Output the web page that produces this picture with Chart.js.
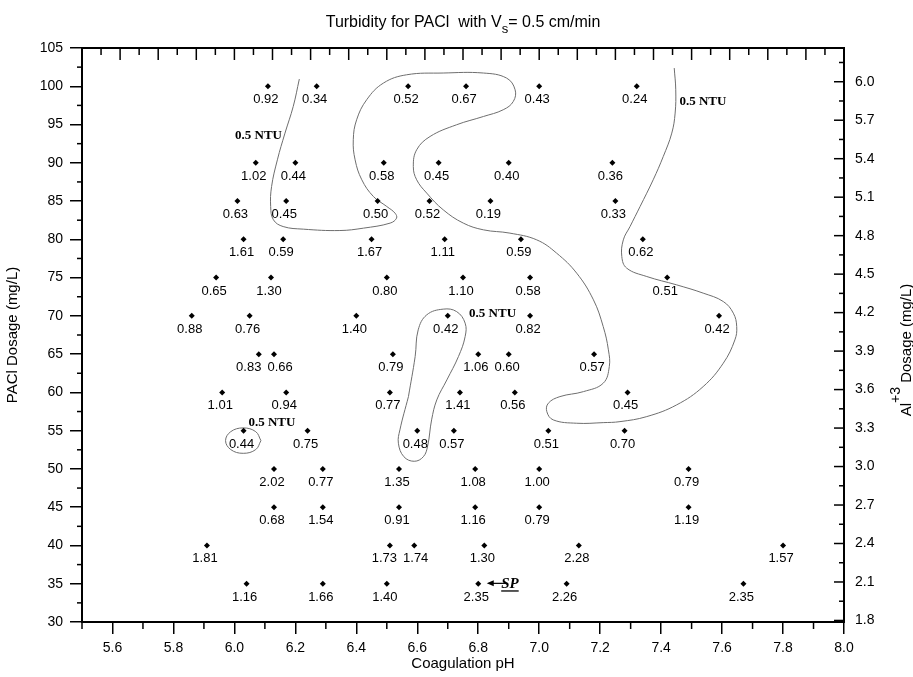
<!DOCTYPE html>
<html>
<head>
<meta charset="utf-8">
<title>Turbidity for PACl</title>
<script src="https://cdn.jsdelivr.net/npm/chart.js@4.4.1/dist/chart.umd.min.js"></script>
<style>
  html, body { margin: 0; padding: 0; background: #fff; }
</style>
</head>
<body>
<canvas id="chart" width="913" height="677"></canvas>
<script>
// --- Data ---
const PH = [
    6.11, 6.27, 6.57, 6.76, 7.00, 7.32,
    6.07, 6.20, 6.49, 6.67, 6.90, 7.24,
    6.01, 6.17, 6.47, 6.64, 6.84, 7.25,
    6.03, 6.16, 6.45, 6.69, 6.94, 7.34,
    5.94, 6.12, 6.50, 6.75, 6.97, 7.42,
    5.86, 6.05, 6.40, 6.70, 6.97, 7.59,
    6.08, 6.13, 6.52, 6.80, 6.90, 7.18,
    5.96, 6.17, 6.51, 6.74, 6.92, 7.29,
    6.03, 6.24, 6.60, 6.72, 7.03, 7.28,
    6.13, 6.29, 6.54, 6.79, 7.00, 7.49,
    6.13, 6.29, 6.54, 6.79, 7.00, 7.49,
    5.91, 6.51, 6.59, 6.82, 7.13, 7.80,
    6.04, 6.29, 6.50, 6.80, 7.09, 7.67
];
const DOSE = [
    100, 100, 100, 100, 100, 100,
    90, 90, 90, 90, 90, 90,
    85, 85, 85, 85, 85, 85,
    80, 80, 80, 80, 80, 80,
    75, 75, 75, 75, 75, 75,
    70, 70, 70, 70, 70, 70,
    65, 65, 65, 65, 65, 65,
    60, 60, 60, 60, 60, 60,
    55, 55, 55, 55, 55, 55,
    50, 50, 50, 50, 50, 50,
    45, 45, 45, 45, 45, 45,
    40, 40, 40, 40, 40, 40,
    35, 35, 35, 35, 35, 35
];
const TURBIDITY = [
    0.92, 0.34, 0.52, 0.67, 0.43, 0.24,
    1.02, 0.44, 0.58, 0.45, 0.40, 0.36,
    0.63, 0.45, 0.50, 0.52, 0.19, 0.33,
    1.61, 0.59, 1.67, 1.11, 0.59, 0.62,
    0.65, 1.30, 0.80, 1.10, 0.58, 0.51,
    0.88, 0.76, 1.40, 0.42, 0.82, 0.42,
    0.83, 0.66, 0.79, 1.06, 0.60, 0.57,
    1.01, 0.94, 0.77, 1.41, 0.56, 0.45,
    0.44, 0.75, 0.48, 0.57, 0.51, 0.70,
    2.02, 0.77, 1.35, 1.08, 1.00, 0.79,
    0.68, 1.54, 0.91, 1.16, 0.79, 1.19,
    1.81, 1.73, 1.74, 1.30, 2.28, 1.57,
    1.16, 1.66, 1.40, 2.35, 2.26, 2.35
];

// 0.5 NTU contour traces [pH, dosage]
const CONTOUR_MAIN = [
    [6.213, 100.94], [6.193, 97.36], [6.166, 93.88], [6.141, 90.39], [6.122, 86.90],
    [6.119, 84.29], [6.128, 82.55], [6.160, 81.67], [6.226, 81.33], [6.346, 81.15],
    [6.423, 81.46], [6.511, 82.12], [6.532, 82.77], [6.527, 83.42], [6.500, 84.29],
    [6.456, 85.60], [6.418, 87.78], [6.396, 90.39], [6.390, 93.01], [6.401, 95.62],
    [6.434, 98.24], [6.489, 100.42], [6.565, 101.50], [6.685, 101.73], [6.817, 101.73],
    [6.893, 101.07], [6.921, 99.54], [6.915, 98.01], [6.882, 96.93], [6.817, 96.05],
    [6.729, 94.97], [6.642, 93.44], [6.598, 91.70], [6.587, 89.52], [6.598, 87.78],
    [6.631, 86.04], [6.685, 83.86], [6.751, 82.12], [6.817, 81.24], [6.904, 80.81],
    [6.992, 79.93], [7.057, 78.20], [7.123, 75.58], [7.178, 72.09], [7.210, 68.60],
    [7.227, 65.56], [7.230, 63.37], [7.210, 61.20], [7.145, 60.10], [7.068, 59.45],
    [7.030, 58.59], [7.025, 57.49], [7.046, 56.41], [7.123, 55.97], [7.210, 56.05],
    [7.265, 56.18], [7.353, 56.84], [7.451, 58.37], [7.538, 60.76], [7.604, 63.82],
    [7.642, 66.86], [7.648, 68.60], [7.637, 70.35], [7.604, 71.87], [7.538, 72.97],
    [7.451, 74.05], [7.353, 75.14], [7.287, 76.24], [7.271, 77.75], [7.276, 79.93],
    [7.298, 81.67], [7.331, 84.29], [7.374, 87.78], [7.407, 90.82], [7.435, 93.88],
    [7.446, 96.50], [7.448, 99.54], [7.443, 102.38]
];
const CONTOUR_LOOP = [
    [6.571, 59.45], [6.593, 64.68], [6.603, 68.17], [6.631, 70.13], [6.685, 70.88],
    [6.729, 70.56], [6.757, 69.05], [6.757, 67.29], [6.735, 64.68], [6.697, 61.63],
    [6.664, 59.02], [6.647, 56.41], [6.634, 53.00], [6.620, 51.60], [6.590, 51.00],
    [6.556, 51.60], [6.538, 53.36], [6.543, 55.10], [6.571, 59.45]
];
const CONTOUR_RING = [
    [6.087, 53.70], [6.070, 52.53], [6.029, 52.04], [5.988, 52.53], [5.971, 53.70],
    [5.988, 54.87], [6.029, 55.36], [6.070, 54.87], [6.087, 53.70]
];

// annotation anchors [pH, dosage]
const NTU_LABELS = [[6.079, 93.1], [7.537, 97.6], [6.847, 69.87], [6.123, 55.62]];
const SP_LABEL = [6.904, 34.4];
const SP_ARROW = [[6.894, 35.05], [6.828, 35.05]];

// tick labels
const X_TICKS = [5.6, 5.8, 6.0, 6.2, 6.4, 6.6, 6.8, 7.0, 7.2, 7.4, 7.6, 7.8, 8.0];
const Y_TICKS = [30, 35, 40, 45, 50, 55, 60, 65, 70, 75, 80, 85, 90, 95, 100, 105];
const Y2_TICKS = [1.8, 2.1, 2.4, 2.7, 3.0, 3.3, 3.6, 3.9, 4.2, 4.5, 4.8, 5.1, 5.4, 5.7, 6.0];

const SANS = '"Liberation Sans", Arial, sans-serif';
const SERIF = '"Liberation Serif", "Times New Roman", serif';

function toXY(pairs) {
    return pairs.map(([x, y]) => ({ x, y }));
}

function line(ctx, x0, y0, x1, y1) {
    ctx.beginPath();
    ctx.moveTo(x0, y0);
    ctx.lineTo(x1, y1);
    ctx.stroke();
}

// draws text pieces [text, font, dy] in a row, centred on (0,0)
function drawPieces(ctx, pieces) {
    let total = 0;
    pieces.forEach(p => { ctx.font = p[1]; total += ctx.measureText(p[0]).width; });
    let cx = -total / 2;
    pieces.forEach(p => {
        ctx.font = p[1];
        ctx.fillText(p[0], cx, p[2]);
        cx += ctx.measureText(p[0]).width;
    });
}

// label centres below each point, nudged apart when two in a row collide
function labelPositions(ctx, points) {
    const labels = points.map((pt, i) => ({
        i, row: DOSE[i], x: pt.x - 2, y: pt.y + 17,
        w: ctx.measureText(TURBIDITY[i].toFixed(2)).width
    }));
    const sorted = [...labels].sort((a, b) => a.row - b.row || a.x - b.x);
    for (let k = 1; k < sorted.length; k++) {
        const a = sorted[k - 1], b = sorted[k];
        if (a.row !== b.row) continue;
        const need = (a.w + b.w) / 2 + 6;
        const gap = b.x - a.x;
        if (gap < need) {
            a.x -= (need - gap) / 2;
            b.x += (need - gap) / 2;
        }
    }
    return labels;
}

// --- Extra drawing: point labels, notes, inside ticks, titles ---
const decorPlugin = {
    id: 'decor',
    afterDatasetsDraw(chart) {
        const { ctx, scales: { x, y } } = chart;
        ctx.save();
        ctx.fillStyle = '#000';
        ctx.strokeStyle = '#000';
        ctx.textAlign = 'center';
        ctx.textBaseline = 'alphabetic';

        ctx.font = '13px ' + SANS;
        labelPositions(ctx, chart.getDatasetMeta(0).data).forEach(l => {
            ctx.fillText(TURBIDITY[l.i].toFixed(2), l.x, l.y);
        });

        ctx.font = 'bold 13px ' + SERIF;
        NTU_LABELS.forEach(([px, py]) => {
            ctx.fillText('0.5 NTU', x.getPixelForValue(px), y.getPixelForValue(py));
        });

        // SP marker with arrow
        ctx.font = 'italic bold 15px ' + SERIF;
        const sx = x.getPixelForValue(SP_LABEL[0]);
        const sy = y.getPixelForValue(SP_LABEL[1]);
        ctx.fillText('SP', sx, sy);
        const w = ctx.measureText('SP').width;
        ctx.fillRect(sx - w / 2, sy + 2, w, 1.3);
        const ax0 = x.getPixelForValue(SP_ARROW[0][0]);
        const ax1 = x.getPixelForValue(SP_ARROW[1][0]);
        const ay = y.getPixelForValue(SP_ARROW[0][1]);
        ctx.lineWidth = 1.2;
        line(ctx, ax0, ay, ax1 + 2, ay);
        ctx.beginPath();
        ctx.moveTo(ax1, ay);
        ctx.lineTo(ax1 + 7, ay - 3);
        ctx.lineTo(ax1 + 7, ay + 3);
        ctx.closePath();
        ctx.fill();
        ctx.restore();
    },
    afterDraw(chart) {
        const { ctx, chartArea: a, scales: { x, y, y2 } } = chart;
        ctx.save();
        ctx.strokeStyle = '#000';
        ctx.fillStyle = '#000';

        // top frame line
        ctx.lineWidth = 2;
        line(ctx, a.left - 1, a.top, a.right + 1, a.top);

        ctx.lineWidth = 1.5;
        // minor ticks outside, left and bottom
        Y_TICKS.slice(0, -1).forEach(v => {
            const py = y.getPixelForValue(v + 2.5);
            line(ctx, a.left - 5, py, a.left, py);
        });
        X_TICKS.forEach(v => {
            const px = x.getPixelForValue(v - 0.1);
            line(ctx, px, a.bottom, px, a.bottom + 7);
        });
        // right axis ticks inside
        Y2_TICKS.forEach(v => {
            const py = y2.getPixelForValue(v);
            line(ctx, a.right - 10, py, a.right, py);
            const pm = y2.getPixelForValue(v + 0.15);
            if (pm > a.top) line(ctx, a.right - 5, pm, a.right, pm);
        });
        // top axis ticks inside
        for (let k = 0; k <= 20; k++) {
            const px = x.getPixelForValue(5.5 + k * 0.125);
            line(ctx, px, a.top, px, a.top + 12);
            if (k < 20) {
                const pm = x.getPixelForValue(5.5 + k * 0.125 + 0.0625);
                line(ctx, pm, a.top, pm, a.top + 7);
            }
        }

        // titles
        ctx.textAlign = 'left';
        ctx.textBaseline = 'alphabetic';
        const midX = (a.left + a.right) / 2;
        const midY = (a.top + a.bottom) / 2;

        ctx.save();
        ctx.translate(midX, 27);
        drawPieces(ctx, [
            ['Turbidity for PACl  with V', '16px ' + SANS, 0],
            ['s', '13px ' + SANS, 6],
            ['= 0.5 cm/min', '16px ' + SANS, 0]
        ]);
        ctx.restore();

        ctx.save();
        ctx.translate(midX, 668);
        drawPieces(ctx, [['Coagulation pH', '15px ' + SANS, 0]]);
        ctx.restore();

        ctx.save();
        ctx.translate(17, midY);
        ctx.rotate(-Math.PI / 2);
        drawPieces(ctx, [['PACl Dosage (mg/L)', '15px ' + SANS, 0]]);
        ctx.restore();

        ctx.save();
        ctx.translate(911, 350);
        ctx.rotate(-Math.PI / 2);
        drawPieces(ctx, [
            ['Al', '15px ' + SANS, 0],
            ['+3', '14px ' + SANS, -11],
            [' Dosage (mg/L)', '15px ' + SANS, 0]
        ]);
        ctx.restore();

        ctx.restore();
    }
};

const contourStyle = {
    showLine: true,
    borderColor: '#6e6e6e',
    borderWidth: 1,
    pointRadius: 0,
    tension: 0.4,
    fill: false
};

new Chart(document.getElementById('chart'), {
    type: 'scatter',
    data: {
        datasets: [
            {
                label: 'Turbidity',
                data: PH.map((v, i) => ({ x: v, y: DOSE[i] })),
                pointStyle: 'rectRot',
                pointRadius: 3,
                backgroundColor: '#000',
                borderColor: '#000',
                borderWidth: 0
            },
            { label: 'contour', data: toXY(CONTOUR_MAIN), ...contourStyle },
            { label: 'loop', data: toXY(CONTOUR_LOOP), ...contourStyle },
            { label: 'ring', data: toXY(CONTOUR_RING), ...contourStyle }
        ]
    },
    options: {
        responsive: false,
        animation: false,
        layout: { padding: { top: 48, left: 0, right: 0, bottom: 0 } },
        plugins: {
            legend: { display: false },
            tooltip: { enabled: false },
            title: { display: false }
        },
        scales: {
            x: {
                type: 'linear',
                position: 'bottom',
                min: 5.5,
                max: 8.0,
                afterBuildTicks: s => { s.ticks = X_TICKS.map(v => ({ value: v })); },
                afterFit: s => { s.height = 55; },
                ticks: {
                    color: '#000',
                    font: { family: SANS, size: 14 },
                    padding: 6,
                    maxRotation: 0,
                    callback: v => v.toFixed(1)
                },
                grid: { drawOnChartArea: false, color: '#000', tickLength: 12, lineWidth: 1.5 },
                border: { color: '#000', width: 2 }
            },
            y: {
                type: 'linear',
                position: 'left',
                min: 30,
                max: 105,
                afterBuildTicks: s => { s.ticks = Y_TICKS.map(v => ({ value: v })); },
                afterFit: s => { s.width = 82; },
                ticks: {
                    color: '#000',
                    font: { family: SANS, size: 14 },
                    padding: 7
                },
                grid: { drawOnChartArea: false, color: '#000', tickLength: 12, lineWidth: 1.5 },
                border: { color: '#000', width: 2 }
            },
            y2: {
                type: 'linear',
                position: 'right',
                min: 1.788,
                max: 6.263,
                afterBuildTicks: s => { s.ticks = Y2_TICKS.map(v => ({ value: v })); },
                afterFit: s => { s.width = 69; },
                ticks: {
                    color: '#000',
                    font: { family: SANS, size: 14 },
                    padding: 11,
                    callback: v => v.toFixed(1)
                },
                grid: { drawOnChartArea: false, drawTicks: false },
                border: { color: '#000', width: 2 }
            }
        }
    },
    plugins: [decorPlugin]
});
</script>
</body>
</html>
